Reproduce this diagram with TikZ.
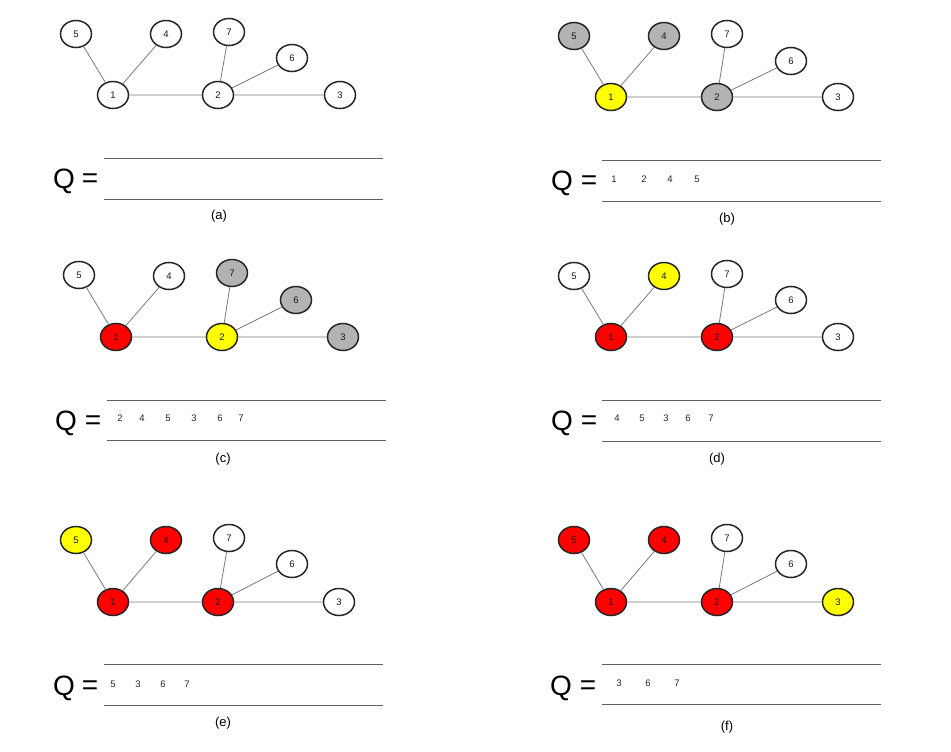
\documentclass[tikz,border=0pt]{standalone}
\usepackage{fontspec}
\setmainfont{Liberation Sans}
\usetikzlibrary{shapes.geometric}
\definecolor{vgray}{HTML}{B3B3B3}
\definecolor{vyel}{HTML}{FFFF00}
\definecolor{vred}{HTML}{FF0000}
\definecolor{edgec}{HTML}{7A7A7A}
\definecolor{linec}{HTML}{606060}
\tikzset{
  vtx/.style={ellipse, draw=black!85, line width=1.5pt, minimum width=31pt, minimum height=27pt, inner sep=0pt, font=\fontsize{9.5}{9.5}\selectfont, text=black!90},
  vw/.style={vtx, fill=white},
  vg/.style={vtx, fill=vgray},
  vy/.style={vtx, fill=vyel},
  vr/.style={vtx, fill=vred},
  edg/.style={draw=edgec, line width=0.8pt},
  qline/.style={draw=linec, line width=0.9pt},
  qlab/.style={font=\fontsize{28}{28}\selectfont, inner sep=0pt},
  qitem/.style={font=\fontsize{9.5}{9.5}\selectfont, inner sep=0pt, text=black!85},
  captxt/.style={font=\fontsize{13}{13}\selectfont, inner sep=0pt}
}
\begin{document}
\begin{tikzpicture}[x=1pt,y=-1pt]
\fill[white] (0,0) rectangle (951,752);
\useasboundingbox (0,0) rectangle (951,752);

% ---------- panel (a)
\node[vw] (a5) at (76,34) {5};
\node[vw] (a4) at (166,34) {4};
\node[vw] (a7) at (229,32) {7};
\node[vw] (a6) at (292,58) {6};
\node[vw] (a1) at (113,95) {1};
\node[vw] (a2) at (218,95) {2};
\node[vw] (a3) at (340,95) {3};
\path[edg] (a1) -- (a5) (a1) -- (a4) (a1) -- (a2) (a2) -- (a7) (a2) -- (a6) (a2) -- (a3);
\path[qline] (104,158) -- (383,158) (104,199) -- (383,199);
\node[qlab] (aq) at (64,181) {Q};
\node[qlab] (aeq) at (90,181) {=};
\node[captxt] (acap) at (219,216) {(a)};

% ---------- panel (b)
\node[vg] (b5) at (574,36) {5};
\node[vg] (b4) at (664,36) {4};
\node[vw] (b7) at (727,34) {7};
\node[vw] (b6) at (791,61) {6};
\node[vy] (b1) at (611,97) {1};
\node[vg] (b2) at (717,97) {2};
\node[vw] (b3) at (838,97) {3};
\path[edg] (b1) -- (b5) (b1) -- (b4) (b1) -- (b2) (b2) -- (b7) (b2) -- (b6) (b2) -- (b3);
\path[qline] (602,160) -- (881,160) (602,201) -- (881,201);
\node[qlab] (bq) at (562,183) {Q};
\node[qlab] (beq) at (589,183) {=};
\node[qitem] (bi1) at (614,179) {1};
\node[qitem] (bi2) at (644,179) {2};
\node[qitem] (bi3) at (670,179) {4};
\node[qitem] (bi4) at (697,179) {5};
\node[captxt] (bcap) at (727,219) {(b)};

% ---------- panel (c)
\node[vw] (c5) at (79,275) {5};
\node[vw] (c4) at (169,276) {4};
\node[vg] (c7) at (232,273) {7};
\node[vg] (c6) at (296,300) {6};
\node[vr] (c1) at (116,337) {1};
\node[vy] (c2) at (222,337) {2};
\node[vg] (c3) at (343,337) {3};
\path[edg] (c1) -- (c5) (c1) -- (c4) (c1) -- (c2) (c2) -- (c7) (c2) -- (c6) (c2) -- (c3);
\path[qline] (107,400) -- (386,400) (107,440) -- (386,440);
\node[qlab] (cq) at (66,423) {Q};
\node[qlab] (ceq) at (93,423) {=};
\node[qitem] (ci1) at (120,418) {2};
\node[qitem] (ci2) at (142,418) {4};
\node[qitem] (ci3) at (168,418) {5};
\node[qitem] (ci4) at (194,418) {3};
\node[qitem] (ci5) at (220,418) {6};
\node[qitem] (ci6) at (241,418) {7};
\node[captxt] (ccap) at (223,459) {(c)};

% ---------- panel (d)
\node[vw] (d5) at (574,276) {5};
\node[vy] (d4) at (664,276) {4};
\node[vw] (d7) at (727,274) {7};
\node[vw] (d6) at (791,300) {6};
\node[vr] (d1) at (611,337) {1};
\node[vr] (d2) at (717,337) {2};
\node[vw] (d3) at (838,337) {3};
\path[edg] (d1) -- (d5) (d1) -- (d4) (d1) -- (d2) (d2) -- (d7) (d2) -- (d6) (d2) -- (d3);
\path[qline] (602,400) -- (881,400) (602,441) -- (881,441);
\node[qlab] (dq) at (562,423) {Q};
\node[qlab] (deq) at (589,423) {=};
\node[qitem] (di1) at (617,418) {4};
\node[qitem] (di2) at (642,418) {5};
\node[qitem] (di3) at (666,418) {3};
\node[qitem] (di4) at (688,418) {6};
\node[qitem] (di5) at (711,418) {7};
\node[captxt] (dcap) at (717,459) {(d)};

% ---------- panel (e)
\node[vy] (e5) at (76,540) {5};
\node[vr] (e4) at (166,540) {4};
\node[vw] (e7) at (229,538) {7};
\node[vw] (e6) at (292,564) {6};
\node[vr] (e1) at (113,602) {1};
\node[vr] (e2) at (218,602) {2};
\node[vw] (e3) at (339,602) {3};
\path[edg] (e1) -- (e5) (e1) -- (e4) (e1) -- (e2) (e2) -- (e7) (e2) -- (e6) (e2) -- (e3);
\path[qline] (104,664) -- (383,664) (104,705) -- (383,705);
\node[qlab] (eq) at (64,688) {Q};
\node[qlab] (eeq) at (90,688) {=};
\node[qitem] (ei1) at (113,684) {5};
\node[qitem] (ei2) at (138,684) {3};
\node[qitem] (ei3) at (163,684) {6};
\node[qitem] (ei4) at (187,684) {7};
\node[captxt] (ecap) at (223,723) {(e)};

% ---------- panel (f)
\node[vr] (f5) at (574,540) {5};
\node[vr] (f4) at (664,540) {4};
\node[vw] (f7) at (727,538) {7};
\node[vw] (f6) at (791,564) {6};
\node[vr] (f1) at (611,602) {1};
\node[vr] (f2) at (717,602) {2};
\node[vy] (f3) at (838,602) {3};
\path[edg] (f1) -- (f5) (f1) -- (f4) (f1) -- (f2) (f2) -- (f7) (f2) -- (f6) (f2) -- (f3);
\path[qline] (602,664) -- (881,664) (602,704) -- (881,704);
\node[qlab] (fq) at (561,688) {Q};
\node[qlab] (feq) at (588,688) {=};
\node[qitem] (fi1) at (619,683) {3};
\node[qitem] (fi2) at (648,683) {6};
\node[qitem] (fi3) at (677,683) {7};
\node[captxt] (fcap) at (727,727) {(f)};
\end{tikzpicture}
\end{document}
